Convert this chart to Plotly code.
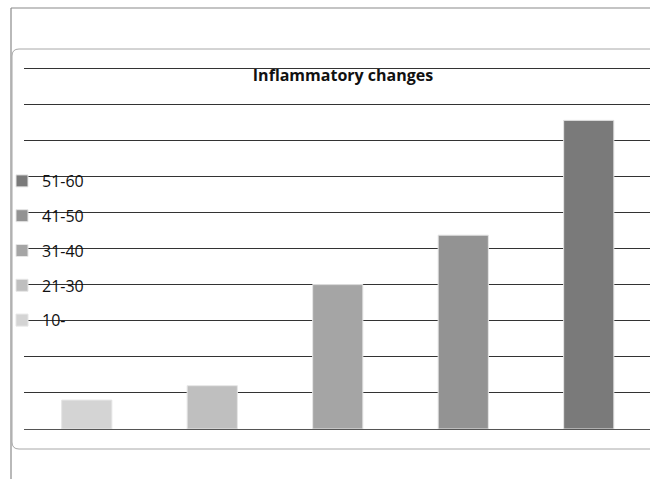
import plotly.graph_objects as go

# Age groups and their inflammatory-change values
age_groups = ["10-", "21-30", "31-40", "41-50", "51-60"]
values = [0.8, 1.2, 4.0, 5.37, 8.55]
bar_colors = ["#d4d4d4", "#bfbfbf", "#a5a5a5", "#939393", "#7a7a7a"]

W, H = 650, 479
MT, MB = 64, 50
plot_left = 24          # left edge of the plotting area, px
plot_w = W - plot_left
plot_h = H - MT - MB
unit_px = 36.1          # pixels per value unit on the y axis


def px_x(px):
    return px / W


def px_y(py):
    return (H - MB - py) / plot_h


fig = go.Figure()
n = len(age_groups)
for i, (grp, val, col) in enumerate(zip(age_groups, values, bar_colors)):
    fig.add_trace(go.Bar(
        x=[grp], y=[val], name=grp,
        marker=dict(color=col, line=dict(color="#e6e6e6", width=1)),
        width=0.4, legendgroup=grp, legendrank=n - i,
    ))

# category spacing of ~125.5px, with the right edge slightly clipped
x_hi = -0.5 + plot_w / 125.5

shapes = [
    # outer frame (left and top edges)
    dict(type="line", xref="paper", yref="paper",
         x0=px_x(11), x1=px_x(11), y0=px_y(8), y1=px_y(480),
         line=dict(color="#8a8a8a", width=1.2)),
    dict(type="line", xref="paper", yref="paper",
         x0=px_x(11), x1=px_x(652), y0=px_y(8), y1=px_y(8),
         line=dict(color="#8a8a8a", width=1.2)),
    # inner rounded chart-area frame
    dict(type="path", xref="paper", yref="paper",
         path=(f"M {px_x(660)} {px_y(49)} L {px_x(19)} {px_y(49)} "
               f"Q {px_x(12)} {px_y(49)} {px_x(12)} {px_y(56)} "
               f"L {px_x(12)} {px_y(442)} "
               f"Q {px_x(12)} {px_y(449)} {px_x(19)} {px_y(449)} "
               f"L {px_x(660)} {px_y(449)}"),
         line=dict(color="#a8a8a8", width=1)),
]

fig.update_layout(
    width=W, height=H,
    margin=dict(l=0, r=0, t=MT, b=MB),
    paper_bgcolor="white", plot_bgcolor="white",
    font=dict(family="Open Sans, sans-serif", color="#1a1a1a"),
    title=dict(text="<b>Inflammatory changes</b>", x=343 / W,
               xanchor="center", xref="container", yref="container",
               y=1 - 75 / H, yanchor="middle",
               font=dict(size=16, color="#111", family="Open Sans")),
    xaxis=dict(domain=[plot_left / W, 1], range=[-0.5, x_hi],
               showticklabels=False, showgrid=False,
               zeroline=False, showline=False, ticks=""),
    yaxis=dict(range=[0, plot_h / unit_px], dtick=1, showticklabels=False,
               showgrid=True, gridcolor="#333", gridwidth=1,
               zeroline=True, zerolinecolor="#555", zerolinewidth=1,
               showline=False, ticks=""),
    bargap=0.6,
    showlegend=True,
    legend=dict(traceorder="grouped", tracegroupgap=11,
                x=px_x(2), xanchor="left", y=px_y(164), yanchor="top",
                bgcolor="rgba(0,0,0,0)", font=dict(size=16, color="#111"),
                itemwidth=30),
    shapes=shapes,
)

fig.write_html("out.html")
